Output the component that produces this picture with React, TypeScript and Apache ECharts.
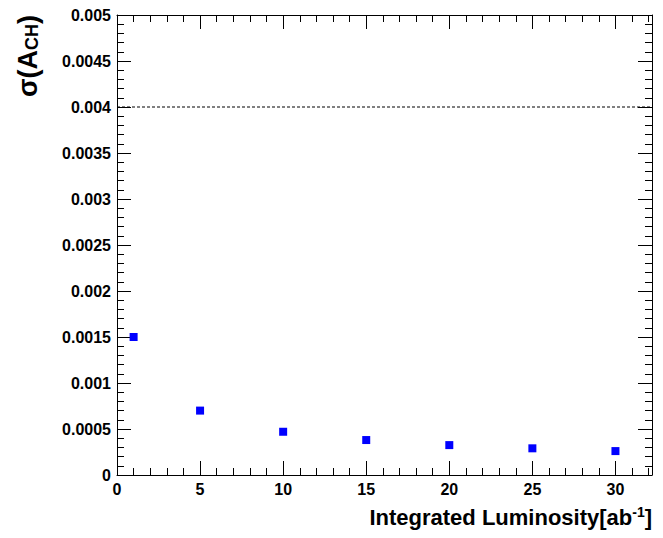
import React, { useEffect, useRef } from 'react';
import * as echarts from 'echarts';

const luminosity = [1, 5, 10, 15, 20, 25, 30];
const sigmaAch = [0.0015, 0.0007, 0.00047, 0.00038, 0.000325, 0.00029, 0.00026];
const refLine = 0.004;

const font = 'Liberation Sans, Arial, sans-serif';

const App: React.FC = () => {
  const chartRef = useRef<HTMLDivElement>(null);

  useEffect(() => {
    if (!chartRef.current) return;
    const chart = echarts.init(chartRef.current, undefined, { renderer: 'svg' });

    const tickStyle = { show: true, inside: true, length: 14, lineStyle: { color: '#000', width: 1 } };
    const minorStyle = { show: true, splitNumber: 5, length: 7, lineStyle: { color: '#000', width: 1 } };
    const lineStyle = { show: true, onZero: false, lineStyle: { color: '#000', width: 1 } };

    chart.setOption({
      animation: false,
      backgroundColor: '#fff',
      grid: { left: 109, right: 3, top: 7, bottom: 55, outerBoundsMode: 'none' },
      xAxis: [
        {
          type: 'value', min: 0, max: 32.2, interval: 5,
          axisLine: lineStyle, axisTick: tickStyle, minorTick: minorStyle,
          splitLine: { show: false },
          axisLabel: {
            color: '#000', fontFamily: font, fontWeight: 'bold', fontSize: 16, margin: 6,
            formatter: (v: number) => (v % 5 === 0 && v <= 30 ? String(v) : ''),
          },
          name: '{n|Integrated Luminosity[ab}{s|-1}{n|]}',
          nameLocation: 'end', nameGap: 0,
          nameTextStyle: {
            align: 'right', verticalAlign: 'top', padding: [30, 0, 0, 0],
            rich: {
              n: { fontFamily: font, fontWeight: 'bold', fontSize: 22, color: '#000' },
              s: { fontFamily: font, fontWeight: 'bold', fontSize: 14, color: '#000', verticalAlign: 'top', padding: [0, 0, 10, 0] },
            },
          },
        },
        {
          type: 'value', position: 'top', min: 0, max: 32.2, interval: 5,
          axisLine: lineStyle, axisTick: tickStyle, minorTick: minorStyle,
          splitLine: { show: false }, axisLabel: { show: false },
        },
      ],
      yAxis: [
        {
          type: 'value', min: 0, max: 0.005, interval: 0.0005,
          axisLine: lineStyle, axisTick: tickStyle, minorTick: minorStyle,
          splitLine: { show: false },
          axisLabel: {
            color: '#000', fontFamily: font, fontWeight: 'bold', fontSize: 16, margin: 6,
            formatter: (v: number) => (v === 0 ? '0' : String(+v.toFixed(5))),
          },
          name: '{n|σ(A}{s|CH}{n|)}',
          nameLocation: 'end', nameRotate: 90, nameGap: 0,
          nameTextStyle: {
            align: 'right', verticalAlign: 'bottom', padding: [0, 0, 76, 0],
            rich: {
              n: { fontFamily: font, fontWeight: 'bold', fontSize: 27, color: '#000' },
              s: { fontFamily: font, fontWeight: 'bold', fontSize: 18, color: '#000', verticalAlign: 'bottom' },
            },
          },
        },
        {
          type: 'value', position: 'right', min: 0, max: 0.005, interval: 0.0005,
          axisLine: lineStyle, axisTick: tickStyle, minorTick: minorStyle,
          splitLine: { show: false }, axisLabel: { show: false },
        },
      ],
      series: [
        {
          type: 'scatter',
          symbol: 'rect', symbolSize: 8,
          itemStyle: { color: '#0000ff', opacity: 1 },
          data: luminosity.map((x, i) => [x, sigmaAch[i]]),
        },
        {
          type: 'line',
          symbol: 'none',
          lineStyle: { color: '#000', type: [3, 2], width: 1 },
          data: [[0, refLine], [32.2, refLine]],
        },
      ],
    });

    return () => chart.dispose();
  }, []);

  return <div ref={chartRef} style={{ width: 647, height: 522 }} />;
};

export default App;
